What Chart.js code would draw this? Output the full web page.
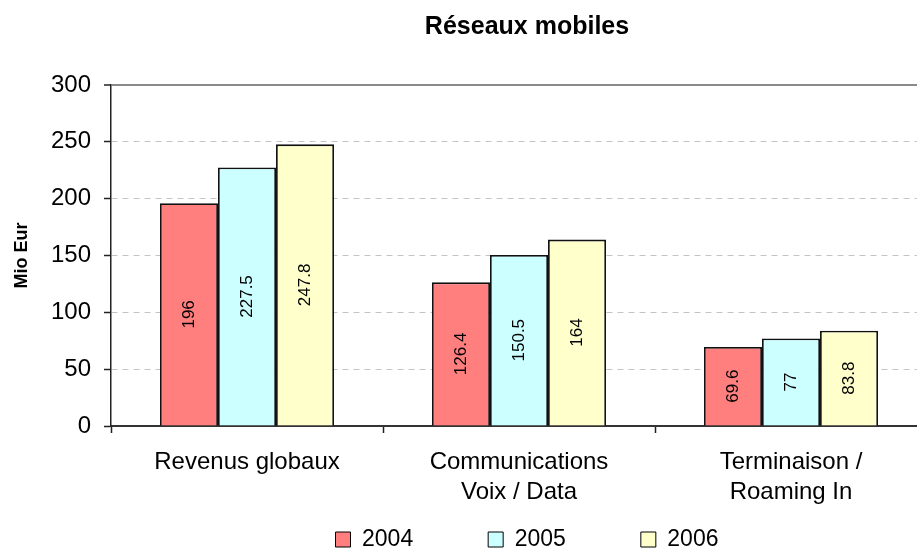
<!DOCTYPE html>
<html>
<head>
<meta charset="utf-8">
<script src="https://cdn.jsdelivr.net/npm/chart.js@4.4.1/dist/chart.umd.min.js"></script>
<style>
html,body{margin:0;padding:0;background:#fff;overflow:hidden;width:917px;height:548px;}
canvas{display:block;}
</style>
</head>
<body>
<canvas id="c" width="1054" height="548"></canvas>
<script>
const categories = ["Revenus globaux", ["Communications", "Voix / Data"], ["Terminaison /", "Roaming In"]];
const years = ["2004", "2005", "2006"];
const values2004 = [196, 126.4, 69.6];
const values2005 = [227.5, 150.5, 77];
const values2006 = [247.8, 164, 83.8];
const yTicks = [0, 50, 100, 150, 200, 250, 300];

const FONT = "'Liberation Sans', Arial, Helvetica, sans-serif";

const valueLabels = {
  id: 'valueLabels',
  afterDatasetsDraw(chart) {
    const ctx = chart.ctx;
    ctx.save();
    ctx.font = "17px " + FONT;
    ctx.fillStyle = '#000';
    ctx.textAlign = 'center';
    ctx.textBaseline = 'middle';
    chart.data.datasets.forEach((ds, di) => {
      const meta = chart.getDatasetMeta(di);
      meta.data.forEach((el, i) => {
        const cx = el.x;
        const cy = (el.y + el.base) / 2;
        ctx.save();
        ctx.translate(cx, cy);
        ctx.rotate(-Math.PI / 2);
        ctx.fillText(String(ds.data[i]), 0, 0);
        ctx.restore();
      });
    });
    ctx.restore();
  }
};

// move the legend row to the very bottom of the canvas
const legendPlacer = {
  id: 'legendPlacer',
  afterLayout(chart) {
    const lg = chart.legend;
    if (!lg) return;
    lg.top = 453;
    lg.bottom = 570;
    lg.height = lg.bottom - lg.top;
  }
};

new Chart(document.getElementById('c'), {
  type: 'bar',
  data: {
    labels: categories,
    datasets: [
      { label: years[0], data: values2004, backgroundColor: '#FF7F7F', borderColor: '#111', borderWidth: 1.8 },
      { label: years[1], data: values2005, backgroundColor: '#CCFFFF', borderColor: '#111', borderWidth: 1.8 },
      { label: years[2], data: values2006, backgroundColor: '#FFFFCC', borderColor: '#111', borderWidth: 1.8 }
    ]
  },
  options: {
    responsive: false,
    animation: false,
    devicePixelRatio: 1,
    layout: { padding: { left: 0, right: 0, top: 0, bottom: 0 } },
    datasets: { bar: { categoryPercentage: 0.64, barPercentage: 1.0 } },
    plugins: {
      title: {
        display: true,
        text: 'Réseaux mobiles',
        color: '#000',
        font: { family: FONT, size: 25, weight: 'bold' },
        padding: { top: 12, bottom: 43 }
      },
      legend: {
        position: 'bottom',
        maxHeight: 30,
        labels: {
          color: '#000',
          font: { family: FONT, size: 23 },
          boxWidth: 15,
          boxHeight: 15,
          padding: 75,
          generateLabels(chart) {
            return chart.data.datasets.map((ds, i) => ({
              text: ds.label,
              fillStyle: ds.backgroundColor,
              strokeStyle: '#000',
              lineWidth: 1,
              datasetIndex: i,
              hidden: false
            }));
          }
        }
      },
      tooltip: { enabled: false }
    },
    scales: {
      x: {
        grid: { display: true, drawOnChartArea: false, offset: true, tickLength: 7, tickColor: '#222', tickWidth: 1.5 },
        border: { display: true, color: '#333', width: 2 },
        ticks: { color: '#000', font: { family: FONT, size: 24, lineHeight: 1.25 }, padding: 14, maxRotation: 0 },
        afterFit(s) { s.height = 92; }
      },
      y: {
        min: 0,
        max: 300,
        afterBuildTicks(s) { s.ticks = yTicks.map(v => ({ value: v })); },
        grid: {
          color(c) { return (c.tick && c.tick.value === 300) ? '#8a8a8a' : '#c4c4c4'; },
          lineWidth(c) { return (c.tick && c.tick.value === 300) ? 2 : 1; },
          tickLength: 7,
          tickColor: '#222',
          tickWidth: 1.5
        },
        border: {
          display: true, color: '#222', width: 1.5,
          dash(c) { return (c.tick && c.tick.value !== 300 && c.tick.value !== 0) ? [6, 5] : []; }
        },
        ticks: { color: '#000', font: { family: FONT, size: 24 }, padding: 13 },
        title: { display: true, text: 'Mio Eur', color: '#000', font: { family: FONT, size: 18, weight: 'bold' }, padding: { top: 11, bottom: 10 } },
        afterFit(s) { s.width = 111; }
      },
      yR: {
        position: 'right',
        min: 0,
        max: 300,
        display: true,
        grid: { display: false, drawTicks: false },
        border: { display: false },
        ticks: { display: false },
        afterFit(s) { s.width = 127; }
      }
    }
  },
  plugins: [valueLabels, legendPlacer]
});
</script>
</body>
</html>
